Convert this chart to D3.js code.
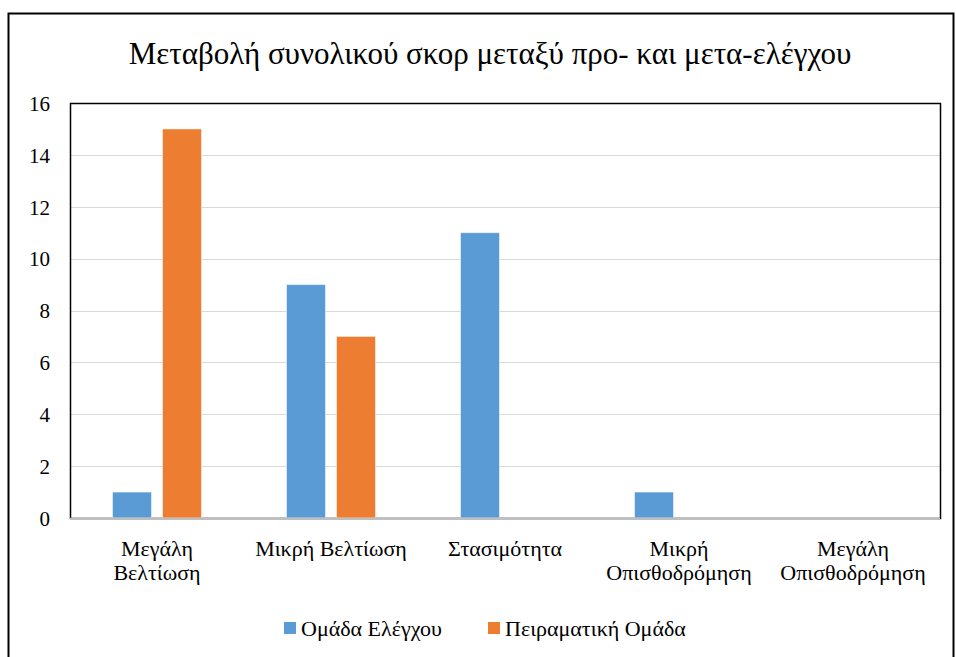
<!DOCTYPE html>
<html>
<head>
<meta charset="utf-8">
<script src="https://cdn.jsdelivr.net/npm/d3@7"></script>
<style>
  body { margin: 0; background: #fff; }
</style>
</head>
<body>
<div id="chart"></div>
<script>
// chart data
const categories = [['Μεγάλη', 'Βελτίωση'], ['Μικρή Βελτίωση'], ['Στασιμότητα'], ['Μικρή', 'Οπισθοδρόμηση'], ['Μεγάλη', 'Οπισθοδρόμηση']];
const seriesNames = ['Ομάδα Ελέγχου', 'Πειραματική Ομάδα'];
const controlValues = [1, 9, 11, 1, 0];
const experimentalValues = [15, 7, 0, 0, 0];
const yTicks = [0, 2, 4, 6, 8, 10, 12, 14, 16];
const colors = ['#5B9BD5', '#ED7D31'];

const width = 956, height = 657;
const plot = { left: 70, right: 940, top: 103, bottom: 518 };
const fontFam = '"Liberation Serif", "Times New Roman", Tinos';

const svg = d3.select('#chart').append('svg')
    .attr('width', width)
    .attr('height', height)
    .style('font-family', fontFam);

// outer frame
svg.append('rect')
    .attr('x', 8.5).attr('y', 13.5)
    .attr('width', 945).attr('height', 660)
    .attr('fill', 'none')
    .attr('stroke', '#000')
    .attr('stroke-width', 2);

svg.append('text')
    .attr('x', 490).attr('y', 64)
    .attr('text-anchor', 'middle')
    .style('font-family', fontFam)
    .attr('font-size', 31)
    .text('Μεταβολή συνολικού σκορ μεταξύ προ- και μετα-ελέγχου');

const x = d3.scaleBand()
    .domain(d3.range(categories.length))
    .range([plot.left, plot.right]);

// two bars per group, 39px wide with an 11px gap
const x1 = d3.scaleBand()
    .domain([0, 1])
    .range([42.5, 131.5])
    .paddingInner(0.22);

const y = d3.scaleLinear()
    .domain([0, 16])
    .range([plot.bottom, plot.top]);

// gridlines
svg.append('g')
    .selectAll('line')
    .data(yTicks.slice(1, -1))
    .join('line')
    .attr('x1', plot.left).attr('x2', plot.right)
    .attr('y1', d => Math.round(y(d)) + 0.5)
    .attr('y2', d => Math.round(y(d)) + 0.5)
    .attr('stroke', '#d9d9d9')
    .attr('stroke-width', 1);

// plot frame
svg.append('rect')
    .attr('x', plot.left + 0.5).attr('y', plot.top + 0.5)
    .attr('width', plot.right - plot.left)
    .attr('height', plot.bottom - plot.top)
    .attr('fill', 'none')
    .attr('stroke', '#000')
    .attr('stroke-width', 1.5);

// y axis labels
const yAxis = d3.axisLeft(y).tickValues(yTicks).tickSize(0).tickPadding(20);
const yG = svg.append('g')
    .attr('transform', `translate(${plot.left},0)`)
    .call(yAxis)
    .attr('font-family', null)
    .attr('font-size', null);
yG.select('.domain').remove();
yG.selectAll('text')
    .attr('dy', '0.35em')
    .style('font-family', fontFam)
    .attr('font-size', 21)
    .attr('fill', '#000');

// bars
const series = [controlValues, experimentalValues];
series.forEach((vals, s) => {
    svg.append('g')
        .selectAll('rect')
        .data(vals)
        .join('rect')
        .attr('x', (d, i) => x(i) + x1(s))
        .attr('y', d => y(d))
        .attr('width', x1.bandwidth())
        .attr('height', d => y(0) - y(d))
        .attr('fill', colors[s])
        .attr('stroke', d => d > 0 ? '#ffffff' : 'none')
        .attr('stroke-opacity', 0.5)
        .attr('stroke-width', 1);
});

// x axis line
svg.append('line')
    .attr('x1', plot.left).attr('x2', plot.right)
    .attr('y1', plot.bottom + 0.5).attr('y2', plot.bottom + 0.5)
    .attr('stroke', '#bfbfbf')
    .attr('stroke-width', 1.5);

// category labels
const catG = svg.append('g')
    .selectAll('text')
    .data(categories)
    .join('text')
    .attr('text-anchor', 'middle')
    .style('font-family', fontFam)
    .attr('font-size', 22)
    .attr('x', (d, i) => x(i) + x.bandwidth() / 2)
    .attr('y', 556);
catG.selectAll('tspan')
    .data(d => d)
    .join('tspan')
    .attr('x', function() { return d3.select(this.parentNode).attr('x'); })
    .attr('dy', (d, i) => i === 0 ? 0 : 24)
    .text(d => d);

// legend
const legendX = [284, 488];
const legend = svg.append('g')
    .selectAll('g')
    .data(seriesNames)
    .join('g')
    .attr('transform', (d, i) => `translate(${legendX[i]},622)`);
legend.append('rect')
    .attr('width', 12).attr('height', 12)
    .attr('fill', (d, i) => colors[i]);
legend.append('text')
    .attr('x', 17).attr('y', 14)
    .style('font-family', fontFam)
    .attr('font-size', 22)
    .text(d => d);
</script>
</body>
</html>
